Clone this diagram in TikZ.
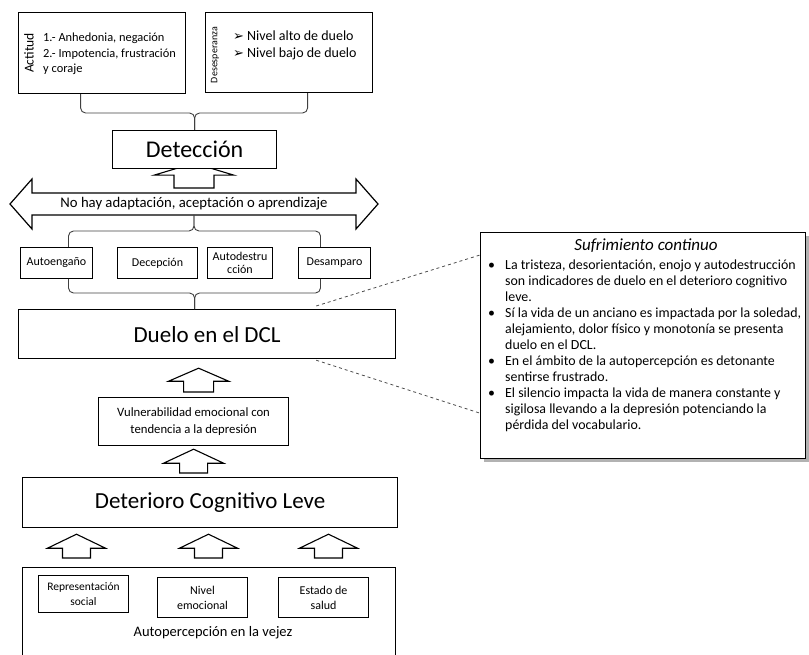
\documentclass[tikz,border=0pt]{standalone}
\usepackage{fontspec}
\setmainfont{Carlito}
\newfontfamily\symfont{DejaVu Sans}
\usetikzlibrary{backgrounds,calc,shadows}

% up block arrow: #1 foot, #2 tip, #3 half head, #4 half shaft, #5 head length
\newcommand{\blkup}[5]{%
  \draw[fill=white, line width=1.1pt] let \p1=#1, \p2=#2 in
    (\x1,\y2) -- (\x1+#3,\y2-#5) -- (\x1+#4,\y2-#5) -- (\x1+#4,\y1)
    -- (\x1-#4,\y1) -- (\x1-#4,\y2-#5) -- (\x1-#3,\y2-#5) -- cycle;}

\begin{document}
\begin{tikzpicture}[x=1pt, y=-1pt,
    box/.style={draw, fill=white, line width=1.2pt, inner sep=0pt, anchor=north west, align=center},
    smallbox/.style={box, line width=1pt, font=\fontsize{12}{13.5}\selectfont},
    brace/.style={draw=black!75, line width=.9pt, rounded corners=5pt},
    zoomline/.style={draw=black!70, dashed, line width=.8pt}]

\useasboundingbox (0,0) rectangle (809,655);
\clip (0,0) rectangle (809,655);

% top boxes ---
\node[box, minimum width=167pt, minimum height=81pt] (actitud) at (18,12) {};
\node[rotate=90, font=\fontsize{13.5}{15}\selectfont] (actlabel) at (29,53) {Actitud};
\node[anchor=north west, inner sep=0pt, align=left, font=\fontsize{12.4}{15.5}\selectfont] (actlist) at (43,33)
  {1.- Anhedonia, negación\\2.- Impotencia, frustración\\y coraje};

\node[box, minimum width=167pt, minimum height=80pt] (desesp) at (205,12) {};
\node[rotate=90, font=\fontsize{10}{11}\selectfont] (desplabel) at (215,55) {Desesperanza};
\node[anchor=north west, inner sep=0pt, align=left, font=\fontsize{14}{17}\selectfont] (desplist) at (233,31)
  {{\symfont\fontsize{13}{17}\selectfont ➢}\hspace{3pt}Nivel alto de duelo\\
   {\symfont\fontsize{13}{17}\selectfont ➢}\hspace{3pt}Nivel bajo de duelo};

\node[box, minimum width=164pt, minimum height=38pt, font=\fontsize{24}{26}\selectfont] (detec) at (112,130) {Detección};

\draw[brace] ([xshift=-21.5pt]actitud.south) |- ([yshift=17pt]detec.north) -- (detec.north);
\draw[brace] ([xshift=18.5pt]desesp.south) |- ([yshift=17pt]detec.north) -- (detec.north);

% double arrow ---
\coordinate (dbltop) at (194,193);
\coordinate (dblbot) at (194,215);
\draw[fill=white, line width=1.2pt] (10,204) -- (32,179) -- (32,193) -- (356,193) -- (356,179) -- (378,204)
  -- (356,229) -- (356,215) -- (32,215) -- (32,229) -- cycle;
\node[font=\fontsize{14.7}{16}\selectfont] (noadapt) at (194,204) {No hay adaptación, aceptación o aprendizaje};

\begin{scope}[on background layer]
\blkup{([yshift=5pt]dbltop)}{([yshift=6pt]detec.south)}{40pt}{20pt}{12pt}
\end{scope}

% grief forms ---
\node[smallbox, minimum width=72pt, minimum height=31pt] (autoeng) at (20,247) {Autoengaño};
\node[smallbox, minimum width=80pt, minimum height=31pt] (decep) at (117,247) {Decepción};
\node[smallbox, minimum width=65pt, minimum height=31pt] (autodest) at (207,247) {Autodestru\\cción};
\node[smallbox, minimum width=72pt, minimum height=31pt] (desamp) at (298,247) {Desamparo};

\draw[brace] ([xshift=12pt]autoeng.north) |- ([yshift=-16pt]dblbot) -- (dblbot);
\draw[brace] ([xshift=-14pt]desamp.north) |- ([yshift=-16pt]dblbot) -- (dblbot);

\node[box, minimum width=377pt, minimum height=49pt, font=\fontsize{23}{26}\selectfont] (duelo) at (18,309) {Duelo en el DCL};

\draw[brace] ([xshift=12pt]autoeng.south) |- ([xshift=-12.5pt, yshift=16pt]duelo.north) -- ([xshift=-12.5pt]duelo.north);
\draw[brace] ([xshift=-14pt]desamp.south) |- ([xshift=-12.5pt, yshift=16pt]duelo.north) -- ([xshift=-12.5pt]duelo.north);

% callout ---
\node[box, minimum width=325pt, minimum height=226pt,
  drop shadow={shadow xshift=3pt, shadow yshift=-3pt, fill=black!60}] (sufr) at (480,232) {};
\node[anchor=north, font=\fontsize{17}{19}\selectfont\itshape] (sufrtitle) at (646,235) {Sufrimiento continuo};
\node[anchor=north west, inner sep=0pt, font=\fontsize{13.9}{16}\selectfont] (sufrlist) at (488,258) {%
  \begin{tabular}{@{}p{17pt}@{}l@{}}
  \textbullet & La tristeza, desorientación, enojo y autodestrucción\\
   & son indicadores de duelo en el deterioro cognitivo\\
   & leve.\\
  \textbullet & Sí la vida de un anciano es impactada por la soledad,\\
   & alejamiento, dolor físico y monotonía se presenta\\
   & duelo en el DCL.\\
  \textbullet & En el ámbito de la autopercepción es detonante\\
   & sentirse frustrado.\\
  \textbullet & El silencio impacta la vida de manera constante y\\
   & sigilosa llevando a la depresión potenciando la\\
   & pérdida del vocabulario.
  \end{tabular}};

\draw[zoomline] ([xshift=-80pt, yshift=3pt]duelo.north east) -- ([yshift=-23pt]sufr.north west);
\draw[zoomline] ([xshift=-80pt, yshift=-1pt]duelo.south east) -- ([yshift=46pt]sufr.south west);

% lower chain ---
\node[box, minimum width=190pt, minimum height=48pt, font=\fontsize{12.7}{17}\selectfont] (vuln) at (98,397)
  {Vulnerabilidad emocional con\\tendencia a la depresión};
\blkup{([xshift=5pt, yshift=5pt]vuln.north)}{([yshift=-9pt]duelo.south)}{30pt}{15pt}{13pt}

\node[box, minimum width=375pt, minimum height=50pt, font=\fontsize{23}{26}\selectfont] (deter) at (22,477) {Deterioro Cognitivo Leve};
\blkup{([xshift=-16.5pt, yshift=4pt]deter.north)}{([yshift=-3pt]vuln.south)}{30pt}{14pt}{14pt}

\node[box, minimum width=373pt, minimum height=110pt] (autop) at (22,567) {};
\node[font=\fontsize{14.5}{16}\selectfont] (autoptext) at (213,633) {Autopercepción en la vejez};

\node[smallbox, minimum width=90pt, minimum height=37pt, font=\fontsize{11.5}{15}\selectfont] (repr) at (38,575) {Representación\\social};
\node[smallbox, minimum width=90pt, minimum height=40pt, font=\fontsize{12}{15}\selectfont] (nivel) at (157,577) {Nivel\\emocional};
\node[smallbox, minimum width=90pt, minimum height=40pt, font=\fontsize{12}{15}\selectfont] (estado) at (278,577) {Estado de\\salud};

\blkup{([xshift=-7pt, yshift=17pt]repr.north)}{([yshift=-6pt]deter.south)}{29pt}{14pt}{14pt}
\blkup{([xshift=6pt, yshift=19pt]nivel.north)}{([yshift=-6pt]deter.south)}{29pt}{14pt}{14pt}
\blkup{([xshift=5pt, yshift=19pt]estado.north)}{([yshift=-6pt]deter.south)}{29pt}{14pt}{14pt}

\end{tikzpicture}
\end{document}
